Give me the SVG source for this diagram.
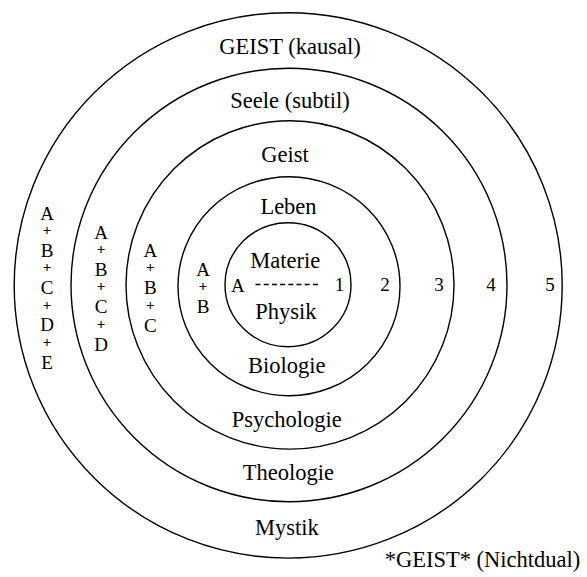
<svg xmlns="http://www.w3.org/2000/svg" width="587" height="577" viewBox="0 0 587 577">
  <style>
    .ring { fill: none; stroke: #000; stroke-width: 1.4; }
    .lbl { font-family: "Liberation Serif", "DejaVu Serif", serif; font-size: 22.5px; fill: #000; text-anchor: middle; }
    .sm { font-family: "Liberation Serif", "DejaVu Serif", serif; font-size: 19px; fill: #000; text-anchor: middle; }
    .pl { font-size: 15px; font-weight: bold; }
  </style>
  <rect width="587" height="577" fill="#fff"/>

  <g id="ring5">
    <ellipse class="ring" cx="288.2" cy="285.4" rx="274" ry="272.7"/>
    <text class="lbl" x="290" y="54">GEIST (kausal)</text>
    <text class="lbl" x="287" y="535">Mystik</text>
    <text class="sm" x="550" y="290.5">5</text>
    <text id="col5" class="sm"><tspan x="47" y="220">A</tspan><tspan class="pl" x="47" y="234.8">+</tspan><tspan x="47" y="256.7">B</tspan><tspan class="pl" x="47" y="271.8">+</tspan><tspan x="47" y="294">C</tspan><tspan class="pl" x="47" y="309.8">+</tspan><tspan x="47" y="331">D</tspan><tspan class="pl" x="47" y="347.1">+</tspan><tspan x="47" y="369">E</tspan></text>
  </g>

  <g id="ring4">
    <ellipse class="ring" cx="289" cy="285" rx="218" ry="216.7"/>
    <text class="lbl" x="290" y="108.3">Seele (subtil)</text>
    <text class="lbl" x="288.3" y="480">Theologie</text>
    <text class="sm" x="491" y="290.5">4</text>
    <text id="col4" class="sm"><tspan x="101" y="239">A</tspan><tspan class="pl" x="101" y="253.8">+</tspan><tspan x="101" y="276">B</tspan><tspan class="pl" x="101" y="291.1">+</tspan><tspan x="101" y="313">C</tspan><tspan class="pl" x="101" y="328.8">+</tspan><tspan x="101" y="350.7">D</tspan></text>
  </g>

  <g id="ring3">
    <ellipse class="ring" cx="290" cy="284.9" rx="164" ry="164.2"/>
    <text class="lbl" x="285" y="161.5">Geist</text>
    <text class="lbl" x="286.7" y="426.7">Psychologie</text>
    <text class="sm" x="439" y="290.5">3</text>
    <text id="col3" class="sm"><tspan x="150.3" y="257.3">A</tspan><tspan class="pl" x="150.3" y="272.1">+</tspan><tspan x="150.3" y="294.3">B</tspan><tspan class="pl" x="150.3" y="309.8">+</tspan><tspan x="150.3" y="331.7">C</tspan></text>
  </g>

  <g id="ring2">
    <ellipse class="ring" cx="289" cy="286.2" rx="111" ry="109.5"/>
    <text class="lbl" x="288.5" y="214">Leben</text>
    <text class="lbl" x="286.7" y="373">Biologie</text>
    <text class="sm" x="385" y="290.5">2</text>
    <text id="col2" class="sm"><tspan x="203" y="276">A</tspan><tspan class="pl" x="203" y="291.1">+</tspan><tspan x="203" y="312.7">B</tspan></text>
  </g>

  <g id="ring1">
    <ellipse class="ring" cx="288" cy="284.7" rx="63" ry="62"/>
    <text class="lbl" x="285.3" y="267.5">Materie</text>
    <text class="lbl" x="285.8" y="318.5">Physik</text>
    <text class="sm" x="237.8" y="292">A</text>
    <text class="sm" x="339.5" y="290.7">1</text>
  </g>

  <g id="connectors">
    <line x1="255.5" y1="284.5" x2="320.5" y2="284.5" stroke="#000" stroke-width="1.3" stroke-dasharray="5 3.2"/>
  </g>

  <text class="lbl" x="482.5" y="566.5">*GEIST* (Nichtdual)</text>
</svg>
